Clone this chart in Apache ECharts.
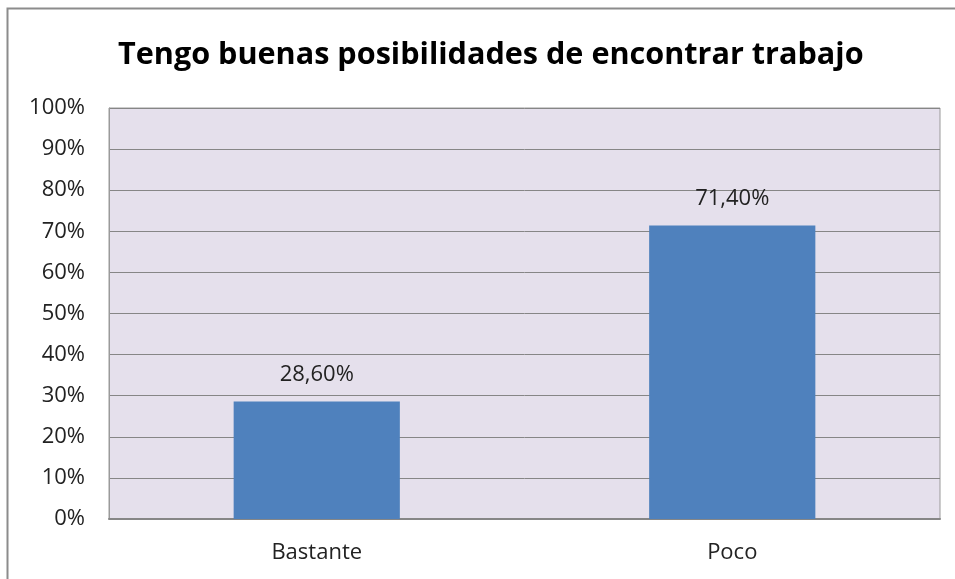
<!DOCTYPE html>
<html><head><meta charset="utf-8">
<script src="https://cdn.jsdelivr.net/npm/echarts@6/dist/echarts.min.js"></script>
<style>html,body{margin:0;padding:0;background:#fff}#c{width:955px;height:579px}</style>
</head><body><div id="c"></div>
<script>
const title = "Tengo buenas posibilidades de encontrar trabajo";
const categories = ["Bastante", "Poco"];
const values = [28.6, 71.4];
const valueLabels = ["28,60%", "71,40%"];

const chart = echarts.init(document.getElementById('c'), null, {renderer: 'canvas'});
const font = "'Open Sans', 'Liberation Sans', sans-serif";
chart.setOption({
  animation: false,
  backgroundColor: '#ffffff',
  graphic: [{
    type: 'rect', shape: {x: 7.5, y: 8.5, width: 960, height: 600},
    style: {fill: 'none', stroke: '#8c8c8c', lineWidth: 2}, z: 100
  }],
  title: {
    text: title, left: 113, top: 35,
    textStyle: {fontFamily: font, fontWeight: 'bold', fontSize: 30.6, color: '#000'}
  },
  grid: {left: 109, top: 108, right: 15, bottom: 60, show: true,
    backgroundColor: '#E5E0EC', borderColor: '#9a9a9a', borderWidth: 1},
  xAxis: {
    type: 'category', data: categories,
    axisLine: {lineStyle: {color: '#868686', width: 2}},
    axisTick: {show: false},
    axisLabel: {fontFamily: font, fontSize: 22, color: '#222', margin: 23}
  },
  yAxis: {
    type: 'value', min: 0, max: 100, interval: 10,
    axisLine: {show: true, lineStyle: {color: '#9a9a9a'}},
    axisTick: {show: false},
    splitLine: {lineStyle: {color: '#868686', width: 1}},
    axisLabel: {fontFamily: font, fontSize: 22, color: '#222', margin: 24,
      formatter: v => v + '%'}
  },
  series: [{
    type: 'bar', data: values, barWidth: '40%',
    itemStyle: {color: '#4F81BD'},
    label: {show: true, position: 'top', distance: 16, fontFamily: font, fontSize: 22, color: '#222',
      formatter: p => valueLabels[p.dataIndex]}
  }]
});
</script></body></html>
